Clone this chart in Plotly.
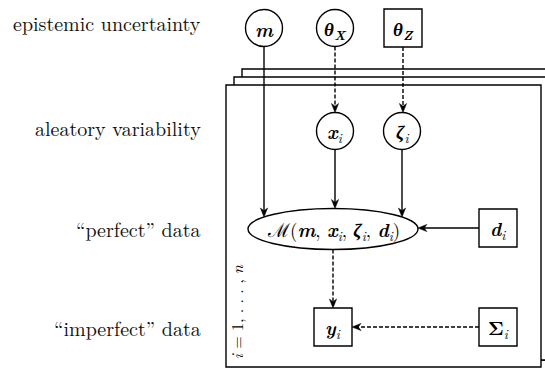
import math
import plotly.graph_objects as go

# ---------------- content ----------------
row_labels = ["epistemic uncertainty", "aleatory variability", "“perfect” data", "“imperfect” data"]

node_names = ["m", "thetaX", "thetaZ", "x", "zeta", "M", "d", "y", "Sigma"]
node_texts = [
    "<b><i>m</i></b>",
    "<b><i>θ</i></b><sub><b><i>X</i></b></sub>",
    "<b><i>θ</i></b><sub><b><i>Z</i></b></sub>",
    "<b><i>x</i></b><sub><i>i</i></sub>",
    "<b><i>ζ</i></b><sub><i>i</i></sub>",
    "ℳ(<b><i>m</i></b>, <b><i>x</i></b><sub><i>i</i></sub>, <b><i>ζ</i></b><sub><i>i</i></sub>, <b><i>d</i></b><sub><i>i</i></sub>)",
    "<b><i>d</i></b><sub><i>i</i></sub>",
    "<b><i>y</i></b><sub><i>i</i></sub>",
    "<b>Σ</b><sub><i>i</i></sub>",
]
node_kinds = ["circle", "circle", "square", "circle", "circle", "ellipse", "square", "square", "square"]

edge_from = ["m", "thetaX", "thetaZ", "x", "zeta", "d", "M", "Sigma"]
edge_to = ["M", "x", "zeta", "M", "M", "M", "y", "y"]
edge_dash = [False, True, True, False, False, False, True, True]

plate_label = "<i>i</i> = 1, . . . , <i>n</i>"

# ---------------- layout (pixel coordinates, y downward) ----------------
W, H = 545, 370
pos = {
    "m": (264, 28), "thetaX": (335, 28), "thetaZ": (403, 28),
    "x": (335, 131), "zeta": (402, 131),
    "M": (333, 229), "d": (498, 228),
    "y": (333, 327), "Sigma": (498, 327),
}
R = 18.5      # circle radius
HS = 19       # square half-size
ERX, ERY = 85, 20.5
row_y = [22, 127, 228, 327]
LW = 1.4
FONT = "Latin Modern Roman"

shapes = []
annotations = []

# plates (back ones first, front one filled white)
for off, y1 in [(16, 360), (8, 360)]:
    shapes.append(dict(type="rect", x0=226 + off, y0=85 - off, x1=541 + off, y1=y1,
                       line=dict(color="black", width=LW), fillcolor="white", layer="above"))
shapes.append(dict(type="rect", x0=226, y0=85, x1=541, y1=367,
                   line=dict(color="black", width=LW), fillcolor="white", layer="above"))


def half_extent(name, axis, offset):
    kind = node_kinds[node_names.index(name)]
    if kind == "circle":
        return math.sqrt(max(R * R - offset * offset, 0))
    if kind == "square":
        return HS
    if axis == "v":
        return ERY * math.sqrt(max(1 - (offset / ERX) ** 2, 0))
    return ERX * math.sqrt(max(1 - (offset / ERY) ** 2, 0))


def arrowhead(tx, ty, ux, uy, L=9, w=3.6):
    bx, by = tx - ux * L, ty - uy * L
    mx, my = tx - ux * L * 0.7, ty - uy * L * 0.7
    px, py = -uy, ux
    return "M {:.2f},{:.2f} L {:.2f},{:.2f} L {:.2f},{:.2f} L {:.2f},{:.2f} Z".format(
        tx, ty, bx + px * w, by + py * w, mx, my, bx - px * w, by - py * w)


for a, b, dashed in zip(edge_from, edge_to, edge_dash):
    (xa, ya), (xb, yb) = pos[a], pos[b]
    if abs(yb - ya) > abs(xb - xa):  # vertical edge at source x
        x = xa
        s = 1 if yb > ya else -1
        y0 = ya + s * half_extent(a, "v", 0)
        y1 = yb - s * half_extent(b, "v", x - xb)
        x0, x1 = x, x
        ux, uy = 0, s
    else:  # horizontal edge at source y
        y = ya
        s = 1 if xb > xa else -1
        x0 = xa + s * half_extent(a, "h", 0)
        x1 = xb - s * half_extent(b, "h", y - yb)
        y0, y1 = y, y
        ux, uy = s, 0
    L = 9
    shapes.append(dict(type="line", x0=x0, y0=y0, x1=x1 - ux * (L - 3), y1=y1 - uy * (L - 3),
                       line=dict(color="black", width=LW, dash="4px,2px" if dashed else "solid"),
                       layer="above"))
    shapes.append(dict(type="path", path=arrowhead(x1, y1, ux, uy, L=L),
                       fillcolor="black", line=dict(color="black", width=0.5), layer="above"))

# nodes
for name, text, kind in zip(node_names, node_texts, node_kinds):
    cx, cy = pos[name]
    if kind == "circle":
        shapes.append(dict(type="circle", x0=cx - R, y0=cy - R, x1=cx + R, y1=cy + R,
                           line=dict(color="black", width=LW), fillcolor="white", layer="above"))
    elif kind == "square":
        shapes.append(dict(type="rect", x0=cx - HS, y0=cy - HS, x1=cx + HS, y1=cy + HS,
                           line=dict(color="black", width=LW), fillcolor="white", layer="above"))
    else:
        shapes.append(dict(type="circle", x0=cx - ERX, y0=cy - ERY, x1=cx + ERX, y1=cy + ERY,
                           line=dict(color="black", width=LW), fillcolor="white", layer="above"))
    annotations.append(dict(x=cx, y=cy + 1, text=text, showarrow=False,
                            font=dict(family=FONT, size=19, color="black"),
                            xanchor="center", yanchor="middle"))

# row labels
for lab, yy in zip(row_labels, row_y):
    annotations.append(dict(x=203, y=yy, text=lab, showarrow=False, xanchor="right", yanchor="middle",
                            font=dict(family=FONT, size=20, color="#111")))

# plate label
annotations.append(dict(x=236, y=312, text=plate_label, showarrow=False, textangle=-90,
                        xanchor="center", yanchor="middle",
                        font=dict(family=FONT, size=16, color="black")))

fig = go.Figure()
fig.add_trace(go.Scatter(x=[0, W], y=[0, H], mode="markers", marker=dict(opacity=0), hoverinfo="skip",
                         showlegend=False))
fig.update_layout(
    width=W, height=H, margin=dict(l=0, r=0, t=0, b=0),
    paper_bgcolor="white", plot_bgcolor="white",
    xaxis=dict(range=[0, W], visible=False, fixedrange=True),
    yaxis=dict(range=[H, 0], visible=False, fixedrange=True),
    shapes=shapes, annotations=annotations, showlegend=False,
)
fig.write_html("out.html", config={"displayModeBar": False},
               post_script="document.body.style.margin='0';")
